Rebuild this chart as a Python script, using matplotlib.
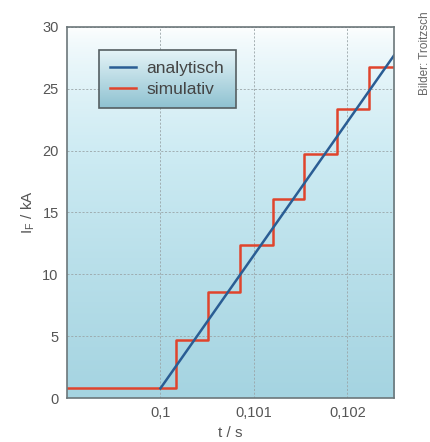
import numpy as np
import matplotlib
matplotlib.use('Agg')
import matplotlib.pyplot as plt
from matplotlib.colors import LinearSegmentedColormap
from matplotlib.patches import Rectangle

plt.rcParams['font.family'] = ['Liberation Sans', 'DejaVu Sans']

# analytische Loesung (Gerade)
t_ana = [0.1, 0.1025]
i_ana = [0.78, 27.7]

# simulierter Verlauf (Treppe)
t_sim = [0.099, 0.10017, 0.10051, 0.10085, 0.10120, 0.10154, 0.10189, 0.10223, 0.1025]
i_sim = [0.78, 4.69, 8.59, 12.4, 16.06, 19.7, 23.34, 26.8, 26.8]

x_ticks = [0.1, 0.101, 0.102]
x_labels = ['0,1', '0,101', '0,102']
y_ticks = [0, 5, 10, 15, 20, 25, 30]

fig = plt.figure(figsize=(4.30, 4.42), dpi=100)
ax = fig.add_axes([0.1558, 0.0995, 0.7605, 0.8395])

# Hintergrundverlauf weiss (oben) -> hellblau (unten)
bg = LinearSegmentedColormap.from_list('bg', ['#ffffff', '#cdebf3', '#a5d4e1'])
grad = np.linspace(0, 1, 256).reshape(-1, 1) ** 0.65
ax.imshow(grad, cmap=bg, aspect='auto', extent=[0, 1, 0, 1], origin='upper',
          transform=ax.transAxes, zorder=0)

ax.plot(t_ana, i_ana, color='#2a5d94', lw=1.8, zorder=4, label='analytisch')
ax.step(t_sim, i_sim, where='post', color='#e0442c', lw=1.8, zorder=3,
        label='simulativ')

ax.set_xlim(0.099, 0.1025)
ax.set_ylim(0, 30)
ax.set_xticks(x_ticks)
ax.set_xticklabels(x_labels)
ax.set_yticks(y_ticks)
ax.tick_params(length=0, labelsize=10.5, labelcolor='#555555', pad=6)
ax.grid(True, ls=(0, (2.5, 2)), color='#9aa5a8', lw=0.6)
ax.set_axisbelow(True)
for s in ax.spines.values():
    s.set_color('#6c777a')
    s.set_linewidth(1.2)
    s.set_zorder(5)

ax.set_xlabel('t / s', fontsize=11, color='#555555', labelpad=4)
ax.set_ylabel('I$_\\mathregular{F}$ / kA', fontsize=11, color='#555555', labelpad=4)

# Legendenkasten mit Verlauf
lx0, ly0, lw, lh = 0.098, 0.782, 0.418, 0.156
lg = LinearSegmentedColormap.from_list('lg', ['#e4f3f7', '#8fc2d1'])
ax.imshow(np.linspace(0, 1, 64).reshape(-1, 1), cmap=lg, aspect='auto',
          extent=[lx0, lx0 + lw, ly0, ly0 + lh], origin='upper',
          transform=ax.transAxes, zorder=6)
ax.add_patch(Rectangle((lx0, ly0), lw, lh, transform=ax.transAxes, fill=False,
                       edgecolor='#555f62', lw=1.2, zorder=7))
leg = ax.legend(loc='center', bbox_to_anchor=(lx0 + lw / 2, ly0 + lh / 2),
                frameon=False, fontsize=12.5, handlelength=1.5, handletextpad=0.6,
                labelspacing=0.35, labelcolor='#444444')
leg.set_zorder(8)

ax.set_xlim(0.099, 0.1025)
ax.set_ylim(0, 30)

fig.text(0.988, 0.88, 'Bilder: Troitzsch', rotation=90, ha='center', va='center',
         fontsize=8.5, color='#666666')

fig.savefig('out.png', dpi=100)
